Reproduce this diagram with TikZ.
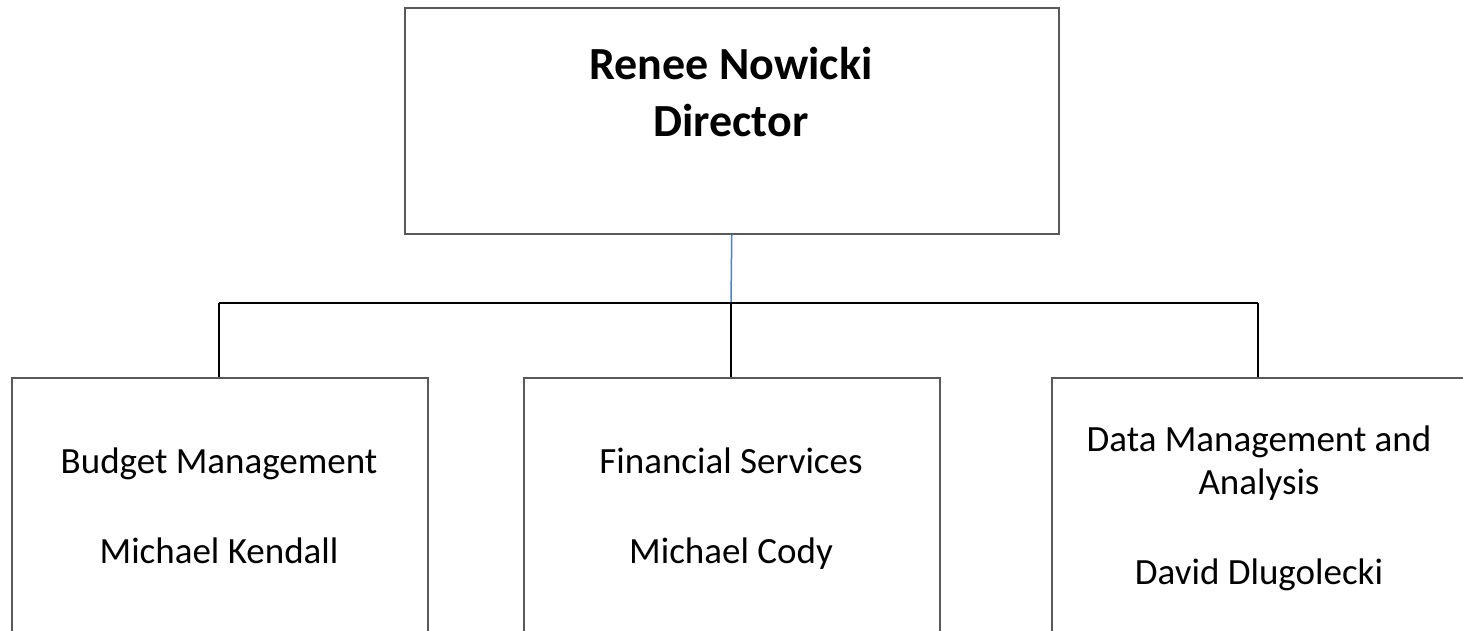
\documentclass[tikz,border=0pt]{standalone}
\usepackage{fontspec}
\setmainfont{Carlito}
\begin{document}
\begin{tikzpicture}[x=1pt,y=-1pt,
  box/.style={draw=boxgray,line width=1.5pt,minimum width=416pt,minimum height=300pt,anchor=north west,inner sep=0pt},
  topbox/.style={draw=boxgray,line width=1.5pt,minimum width=654pt,minimum height=226pt,anchor=north west,inner sep=0pt},
  lbl/.style={anchor=base,inner sep=0pt,font=\fontsize{37}{44}\selectfont},
  toplbl/.style={anchor=base,inner sep=0pt,font=\fontsize{46}{57}\selectfont\bfseries},
  conn/.style={draw=black,line width=2pt},
  blueconn/.style={draw=blueline,line width=1.5pt}]
\definecolor{boxgray}{HTML}{595959}
\definecolor{blueline}{HTML}{4F81BD}
\clip (0,0) rectangle (1463,630);
\fill[white] (0,0) rectangle (1463,630);
% boxes
\node[topbox] (dir) at (404,7) {};
\node[box] (b1) at (11,377) {};
\node[box] (b2) at (523,377) {};
\node[box] (b3) at (1051,377) {};
% texts
\node[toplbl] (dn) at (731,79) {Renee Nowicki};
\node[toplbl] (dt) at (731,136) {Director};
\node[lbl] (t1a) at (219,473) {Budget Management};
\node[lbl] (t1b) at (219,563) {Michael Kendall};
\node[lbl] (t2a) at (731,473) {Financial Services};
\node[lbl] (t2b) at (731,563) {Michael Cody};
\node[lbl] (t3a) at (1259,451) {Data Management and};
\node[lbl] (t3b) at (1259,494) {Analysis};
\node[lbl] (t3c) at (1259,584) {David Dlugolecki};
% connectors
\coordinate (hub) at (731,303);
\coordinate (hl) at (219,303);
\coordinate (hr) at (1258,303);
\draw[blueconn] (dir.south) -- (hub);
\draw[conn] (hl) -- (hr);
\draw[conn] (hl) -- (hl |- b1.north);
\draw[conn] (hub) -- (hub |- b2.north);
\draw[conn] (hr) -- (hr |- b3.north);
\end{tikzpicture}
\end{document}
